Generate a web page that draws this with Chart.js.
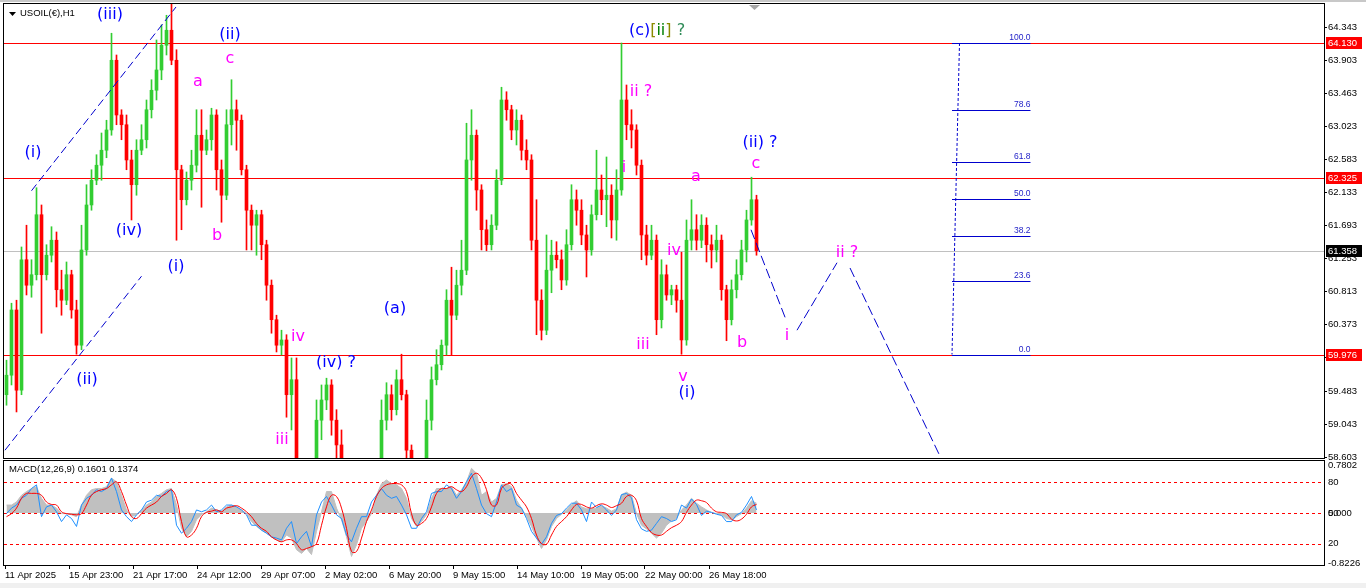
<!DOCTYPE html>
<html>
<head>
<meta charset="utf-8">
<title>USOIL(€),H1</title>
<script src="https://cdn.jsdelivr.net/npm/chart.js@4.4.1/dist/chart.umd.min.js"></script>
<style>
html, body { margin: 0; padding: 0; background: #f0f0f0; overflow: hidden; }
#wrap { position: relative; width: 1366px; height: 583px; background: #fff; overflow: hidden; }
#mainChart { position: absolute; left: 0; top: -10px; }
#macdChart { position: absolute; left: 0; top: 450px; }
#topStrip { position: absolute; left: 0; top: 0; width: 1366px; height: 2px; background: #c8c8c8; }
</style>
</head>
<body>
<div id="wrap">
  <canvas id="mainChart" width="1366" height="480"></canvas>
  <canvas id="macdChart" width="1366" height="133"></canvas>
  <div id="topStrip"></div>
</div>
<script>
var upColor = "#32cd32";
var downColor = "#ff0000";
var waveBlue = "#0000ff";
var wavePink = "#ff00ff";
var lineBlue = "#0000cd";
var fibBlue = "#2323c8";
var axisFont = {family: "Liberation Sans", size: 9.5};

//////////////////////////////////////// DATA ////////////////////////////////////////
// USOIL H1, one candle per 5 px column of the screen
var openPrices = [
  59.44, 59.70, 60.57, 59.50, 61.24, 60.90, 61.04, 61.84, 61.04, 61.30,
  61.50, 60.84, 60.70, 61.04, 60.57, 60.10, 61.37, 61.97, 62.30, 62.50,
  62.70, 62.97, 63.90, 63.17, 63.04, 62.57, 62.24, 62.70, 62.84, 63.24,
  63.50, 63.77, 64.10, 64.30, 63.90, 62.44, 62.04, 62.30, 62.50, 62.90,
  62.70, 62.84, 63.17, 62.44, 62.10, 63.04, 63.24, 63.10, 62.44, 61.90,
  61.70, 61.84, 61.44, 60.90, 60.44, 60.10, 60.17, 59.44, 59.64, 58.44,
  58.30, 58.37, 58.44, 59.10, 59.37, 59.57, 59.10, 58.77, 58.44, 58.17,
  58.10, 58.24, 58.17, 58.30, 58.24, 58.44, 59.10, 59.44, 59.24, 59.64,
  59.44, 58.70, 58.30, 58.17, 58.37, 59.10, 59.64, 59.84, 60.10, 60.70,
  60.50, 60.90, 61.10, 62.57, 62.90, 62.17, 61.64, 61.44, 61.70, 62.30,
  63.37, 63.24, 62.97, 63.10, 62.70, 62.57, 61.50, 60.70, 60.30, 61.10,
  61.30, 61.24, 60.97, 61.44, 62.04, 61.90, 61.57, 61.37, 61.84, 62.17,
  62.04, 62.10, 61.77, 62.17, 63.37, 63.04, 62.97, 62.50, 61.57, 61.30,
  61.50, 60.44, 61.04, 60.77, 60.84, 60.70, 60.17, 61.50, 61.64, 61.50,
  61.70, 61.44, 61.37, 61.50, 60.84, 60.44, 60.84, 61.04, 61.37, 61.77,
  62.04
];
var highPrices = [
  59.90, 60.66, 60.70, 61.41, 61.70, 61.24, 62.20, 61.97, 61.44, 61.68,
  61.61, 61.10, 61.21, 61.10, 60.70, 61.70, 62.24, 62.44, 62.64, 62.93,
  63.10, 64.26, 63.97, 63.24, 63.17, 62.70, 62.84, 63.04, 63.37, 63.64,
  64.17, 64.37, 64.50, 64.68, 64.04, 62.50, 62.41, 62.70, 63.24, 63.24,
  62.97, 63.26, 63.24, 62.57, 63.24, 63.64, 63.37, 63.17, 62.50, 61.97,
  61.90, 61.90, 61.50, 60.97, 60.50, 60.30, 60.24, 59.93, 59.93, 58.57,
  58.50, 58.54, 59.37, 59.57, 59.66, 59.64, 59.24, 58.97, 58.50, 58.30,
  58.33, 58.44, 58.44, 58.50, 58.57, 59.37, 59.60, 59.57, 59.77, 59.98,
  59.50, 58.77, 58.44, 58.50, 59.37, 59.81, 60.04, 60.17, 60.84, 61.14,
  61.10, 61.50, 63.06, 63.24, 62.97, 62.24, 61.77, 61.84, 62.44, 63.54,
  63.48, 63.30, 63.24, 63.17, 62.84, 62.64, 62.04, 60.84, 61.57, 61.50,
  61.48, 61.37, 61.64, 62.24, 62.17, 62.04, 61.70, 61.97, 62.70, 62.37,
  62.61, 62.24, 62.44, 64.13, 63.57, 63.24, 63.04, 62.57, 61.70, 61.70,
  61.57, 61.24, 61.17, 60.90, 60.90, 61.34, 61.77, 62.04, 61.84, 61.84,
  61.80, 61.57, 61.70, 61.57, 60.90, 60.97, 61.24, 61.50, 61.90, 62.34,
  62.10
];
var lowPrices = [
  59.30, 59.57, 59.21, 59.44, 60.77, 60.74, 60.97, 60.26, 60.97, 61.21,
  60.61, 60.50, 60.64, 60.46, 59.98, 60.04, 61.30, 61.90, 62.24, 62.30,
  62.60, 62.90, 63.04, 62.84, 62.44, 61.77, 62.10, 62.64, 62.73, 63.13,
  63.37, 63.64, 63.97, 63.84, 61.50, 61.64, 61.97, 62.17, 62.41, 61.94,
  62.64, 62.70, 62.17, 61.74, 62.04, 62.77, 62.70, 62.37, 61.37, 61.37,
  61.30, 61.24, 60.70, 60.26, 60.01, 59.97, 59.14, 58.97, 58.17, 58.04,
  57.97, 58.10, 58.30, 58.84, 59.24, 58.90, 58.57, 58.30, 57.97, 57.90,
  57.97, 58.04, 58.04, 58.10, 58.17, 58.37, 58.97, 59.10, 59.17, 59.37,
  58.57, 58.04, 57.90, 58.04, 58.30, 58.97, 59.57, 59.77, 59.97, 59.97,
  60.44, 60.77, 61.04, 62.30, 61.90, 61.37, 61.36, 61.37, 61.64, 62.24,
  63.10, 62.84, 62.77, 62.57, 62.44, 61.37, 60.24, 60.17, 60.24, 60.80,
  61.13, 60.84, 60.90, 61.37, 61.70, 61.44, 61.01, 61.30, 61.77, 61.84,
  61.68, 61.53, 61.50, 62.10, 62.84, 62.73, 62.37, 61.24, 61.17, 61.24,
  60.24, 60.33, 60.70, 60.64, 60.54, 59.98, 60.10, 61.37, 61.37, 61.40,
  61.21, 61.13, 61.21, 60.70, 60.16, 60.37, 60.73, 60.97, 61.21, 61.70,
  61.30
];
var closePrices = [
  59.70, 60.57, 59.50, 61.24, 60.90, 61.04, 61.84, 61.04, 61.30, 61.50,
  60.84, 60.70, 61.04, 60.57, 60.10, 61.37, 61.97, 62.30, 62.50, 62.70,
  62.97, 63.90, 63.17, 63.04, 62.57, 62.24, 62.70, 62.84, 63.24, 63.50,
  63.77, 64.10, 64.30, 63.90, 62.44, 62.04, 62.30, 62.50, 62.90, 62.70,
  62.84, 63.17, 62.44, 62.10, 63.04, 63.24, 63.10, 62.44, 61.90, 61.70,
  61.84, 61.44, 60.90, 60.44, 60.10, 60.17, 59.44, 59.64, 58.44, 58.30,
  58.37, 58.44, 59.10, 59.37, 59.57, 59.10, 58.77, 58.44, 58.17, 58.10,
  58.24, 58.17, 58.30, 58.24, 58.44, 59.10, 59.44, 59.24, 59.64, 59.44,
  58.70, 58.30, 58.17, 58.37, 59.10, 59.64, 59.84, 60.10, 60.70, 60.50,
  60.90, 61.10, 62.57, 62.90, 62.17, 61.64, 61.44, 61.70, 62.30, 63.37,
  63.24, 62.97, 63.10, 62.70, 62.57, 61.50, 60.70, 60.30, 61.10, 61.30,
  61.24, 60.97, 61.44, 62.04, 61.90, 61.57, 61.37, 61.84, 62.17, 62.04,
  62.10, 61.77, 62.17, 63.37, 63.04, 62.97, 62.50, 61.57, 61.30, 61.50,
  60.44, 61.04, 60.77, 60.84, 60.70, 60.17, 61.50, 61.64, 61.50, 61.70,
  61.44, 61.37, 61.50, 60.84, 60.44, 60.84, 61.04, 61.37, 61.77, 62.04,
  61.36
];

// MACD(12,26,9) sub window, same columns
var macdMain = [
  -0.01, 0.08, 0.13, 0.24, 0.29, 0.40, 0.46, -0.06, 0.10, 0.13,
  0.02, -0.14, -0.03, -0.09, -0.22, 0.13, 0.24, 0.29, 0.38, 0.35,
  0.40, 0.57, 0.35, 0.05, -0.06, -0.14, -0.03, 0.05, 0.18, 0.21,
  0.29, 0.27, 0.35, 0.38, -0.20, -0.33, -0.25, -0.14, 0.05, 0.02,
  0.05, 0.13, 0.02, 0.05, 0.13, 0.13, 0.10, 0.05, -0.03, -0.20,
  -0.20, -0.28, -0.33, -0.39, -0.41, -0.44, -0.25, -0.14, -0.50, -0.39,
  -0.30, -0.55, -0.03, 0.18, 0.27, 0.13, -0.03, -0.09, -0.36, -0.47,
  -0.25, -0.06, -0.06, 0.18, 0.29, 0.40, 0.29, 0.24, 0.27, 0.13,
  -0.03, -0.25, -0.25, -0.09, 0.02, 0.32, 0.35, 0.35, 0.46, 0.40,
  0.24, 0.35, 0.51, 0.65, 0.40, 0.13, -0.01, -0.06, 0.18, 0.46,
  0.35, 0.40, 0.13, 0.08, -0.09, -0.30, -0.41, -0.51, -0.39, -0.17,
  -0.04, -0.01, 0.08, 0.16, 0.16, 0.05, -0.14, 0.18, 0.09, 0.13,
  0.05, -0.04, 0.05, 0.30, 0.32, 0.25, -0.11, -0.26, -0.30, -0.28,
  -0.17, -0.06, -0.09, -0.14, -0.11, 0.13, 0.08, 0.23, 0.14, -0.04,
  0.03, 0.01, -0.02, -0.04, -0.14, -0.14, -0.03, 0.01, 0.13, 0.27,
  0.05
];
var macdSignal = [
  -0.06, -0.01, 0.08, 0.24, 0.32, 0.32, 0.32, 0.29, 0.18, 0.14,
  0.13, 0.02, -0.01, -0.02, -0.03, -0.01, 0.13, 0.29, 0.35, 0.38,
  0.40, 0.46, 0.51, 0.35, 0.13, -0.06, -0.09, -0.01, 0.08, 0.13,
  0.18, 0.27, 0.32, 0.38, 0.24, -0.14, -0.39, -0.36, -0.25, -0.06,
  0.01, 0.03, 0.05, 0.02, 0.08, 0.10, 0.12, 0.08, 0.02, -0.06,
  -0.17, -0.25, -0.30, -0.39, -0.44, -0.47, -0.44, -0.44, -0.50, -0.60,
  -0.58, -0.55, -0.50, -0.20, 0.10, 0.29, 0.27, 0.08, -0.25, -0.63,
  -0.63, -0.41, -0.14, 0.05, 0.27, 0.40, 0.46, 0.48, 0.48, 0.46,
  0.35, -0.01, -0.20, -0.17, -0.09, 0.10, 0.32, 0.40, 0.40, 0.43,
  0.38, 0.35, 0.43, 0.59, 0.65, 0.57, 0.38, 0.13, 0.13, 0.40,
  0.47, 0.47, 0.32, 0.21, 0.10, -0.09, -0.36, -0.50, -0.51, -0.36,
  -0.22, -0.14, -0.06, 0.05, 0.14, 0.14, 0.10, 0.08, 0.12, 0.15,
  0.13, 0.09, 0.12, 0.16, 0.27, 0.29, 0.20, -0.09, -0.22, -0.32,
  -0.36, -0.36, -0.30, -0.24, -0.20, -0.14, 0.01, 0.13, 0.21, 0.20,
  0.17, 0.08, 0.02, 0.01, -0.01, -0.10, -0.13, -0.10, -0.02, 0.10,
  0.14
];
var macdHist = [
  0.13, 0.13, 0.18, 0.29, 0.35, 0.40, 0.43, 0.24, 0.13, 0.13,
  0.08, -0.01, -0.01, -0.03, -0.06, 0.13, 0.29, 0.38, 0.40, 0.40,
  0.43, 0.57, 0.51, 0.29, 0.05, -0.06, -0.03, 0.05, 0.13, 0.18,
  0.27, 0.32, 0.38, 0.40, 0.13, -0.25, -0.39, -0.30, -0.11, -0.03,
  0.02, 0.08, 0.05, 0.03, 0.10, 0.13, 0.10, 0.05, -0.01, -0.14,
  -0.22, -0.28, -0.33, -0.39, -0.44, -0.47, -0.36, -0.41, -0.60, -0.66,
  -0.58, -0.68, -0.30, 0.02, 0.35, 0.35, 0.08, -0.11, -0.39, -0.71,
  -0.52, -0.25, -0.14, -0.01, 0.29, 0.48, 0.54, 0.48, 0.46, 0.40,
  0.24, -0.09, -0.22, -0.14, -0.03, 0.24, 0.40, 0.40, 0.40, 0.43,
  0.29, 0.38, 0.51, 0.73, 0.65, 0.29, 0.35, 0.18, 0.24, 0.46,
  0.48, 0.43, 0.21, 0.08, -0.06, -0.22, -0.41, -0.58, -0.44, -0.22,
  -0.09, -0.02, 0.05, 0.14, 0.20, 0.10, 0.07, 0.07, 0.08, 0.12,
  0.08, 0.03, 0.07, 0.30, 0.34, 0.29, -0.01, -0.20, -0.26, -0.33,
  -0.41, -0.33, -0.20, -0.13, -0.09, 0.05, 0.13, 0.24, 0.16, 0.10,
  0.05, 0.01, -0.01, -0.03, -0.09, -0.11, -0.06, -0.01, 0.08, 0.20,
  0.16
];
var macdLastMain = 0.1601;
var macdLastSignal = 0.1374;

// axes
var priceTicks = [64.343, 63.903, 63.463, 63.023, 62.583, 62.133, 61.693, 61.253, 60.813, 60.373, 59.933, 59.483, 59.043, 58.603];
var dateLabels = ["11 Apr 2025", "15 Apr 23:00", "21 Apr 17:00", "24 Apr 12:00", "29 Apr 07:00", "2 May 02:00", "6 May 20:00", "9 May 15:00", "14 May 10:00", "19 May 05:00", "22 May 00:00", "26 May 18:00"];
var macdTicks = [0.7802, 0.5, 0, -0.5, -0.8226];
var macdTickLabels = ["0.7802", "80", "0.000", "20", "-0.8226"];
var macdLevels = [0.5, 0, -0.5];

// chart objects
var redLevels = [64.130, 62.325, 59.976];
var bidLevel = 61.358;
var fibHigh = 64.130;
var fibLow = 59.976;
var fibLevels = [100.0, 78.6, 61.8, 50.0, 38.2, 23.6, 0.0];
var channelUpper = [{x: 5.0, y: 62.16}, {x: 33.9, y: 64.61}];
var channelLower = [{x: -0.3, y: 58.70}, {x: 27.0, y: 61.02}];
var projectionLegs = [
  [{x: 148.9, y: 61.64}, {x: 155.9, y: 60.44}],
  [{x: 158.1, y: 60.30}, {x: 166.1, y: 61.20}],
  [{x: 168.7, y: 61.13}, {x: 186.7, y: 58.62}]
];
var fibTrend = [{x: 190.6, y: 64.13}, {x: 189.1, y: 59.976}];

var blueWaveLabels = [
  ["(iii)", 20.7, 64.50], ["(ii)", 44.7, 64.24], ["(i)", 5.3, 62.66], ["(iv)", 24.5, 61.62],
  ["(i)", 33.9, 61.14], ["(ii)", 16.1, 59.64], ["(iv) ?", 65.9, 59.86], ["(a)", 77.7, 60.58],
  ["(ii) ?", 150.7, 62.80], ["(i)", 136.1, 59.46]
];
var pinkWaveLabels = [
  ["c", 44.7, 63.92], ["a", 38.3, 63.61], ["b", 42.1, 61.56], ["iv", 58.3, 60.21],
  ["iii", 55.1, 58.84], ["ii ?", 126.9, 63.48], ["i", 123.5, 62.46], ["a", 137.9, 62.34],
  ["c", 149.9, 62.52], ["iv", 133.5, 61.36], ["iii", 127.3, 60.10], ["b", 147.1, 60.13],
  ["v", 135.3, 59.68], ["i", 156.1, 60.22], ["ii ?", 168.1, 61.33]
];
var topWaveLabel = {x: 130.1, y: 64.29, parts: [["(c)", waveBlue], ["[", "#8b8b00"], ["ii", "#008000"], ["]", "#8b8b00"], [" ?", "#2e8b57"]]};

//////////////////////////////////////// SCALE SETUP ////////////////////////////////////////
var xMin = -0.5;
var xMax = xMin + 1320 / 5;
var priceMin = 58.596;
var priceMax = 64.650;
var dateTickStart = -0.3;
var dateTickStep = 12.8;
var fibStartBar = 189.1;
var fibEndBar = 204.8;

var barIndex = closePrices.map(function(c, i){ return i; });

function candleColor(i){
    return closePrices[i] >= openPrices[i] ? upColor : downColor;
}

function hLine(ctx, x0, x1, y, color){
    var yy = Math.round(y) + 0.5;
    ctx.strokeStyle = color;
    ctx.lineWidth = 1;
    ctx.beginPath();
    ctx.moveTo(x0, yy);
    ctx.lineTo(x1, yy);
    ctx.stroke();
}

function dashedLine(points, dash){
    return {
        type: "line",
        data: points,
        borderColor: lineBlue,
        borderWidth: 1,
        borderDash: dash,
        pointRadius: 0,
        tension: 0,
        clip: 0
    };
}

function frame(ctx, area){
    ctx.strokeStyle = "#000";
    ctx.lineWidth = 1;
    ctx.strokeRect(area.left - 0.5, area.top - 0.5, area.right - area.left + 1, area.bottom - area.top + 1);
}

//////////////////////////////////////// MAIN WINDOW ////////////////////////////////////////
var mainOverlay = {
    id: "mainOverlay",
    beforeDatasetsDraw: function(chart){
        var ctx = chart.ctx, area = chart.chartArea, xs = chart.scales.x, ys = chart.scales.y;
        ctx.save();
        hLine(ctx, area.left, area.right, ys.getPixelForValue(bidLevel), "#c0c0c0");
        redLevels.forEach(function(v){
            hLine(ctx, area.left, area.right, ys.getPixelForValue(v), "#ff0000");
        });
        var x0 = xs.getPixelForValue(fibStartBar), x1 = xs.getPixelForValue(fibEndBar);
        ctx.font = "8.5px 'Liberation Sans'";
        ctx.textAlign = "right";
        ctx.textBaseline = "bottom";
        fibLevels.forEach(function(lv){
            var y = ys.getPixelForValue(fibLow + (fibHigh - fibLow) * lv / 100);
            hLine(ctx, x0, x1, y, lineBlue);
            ctx.fillStyle = fibBlue;
            ctx.fillText(lv.toFixed(1), x1, Math.round(y) - 1);
        });
        ctx.restore();
    },
    afterDraw: function(chart){
        var ctx = chart.ctx, area = chart.chartArea, xs = chart.scales.x, ys = chart.scales.y;
        ctx.save();
        frame(ctx, area);

        // wave counts
        ctx.font = "16px 'DejaVu Sans'";
        ctx.textAlign = "center";
        ctx.textBaseline = "middle";
        ctx.fillStyle = waveBlue;
        blueWaveLabels.forEach(function(l){
            ctx.fillText(l[0], xs.getPixelForValue(l[1]), ys.getPixelForValue(l[2]));
        });
        ctx.fillStyle = wavePink;
        pinkWaveLabels.forEach(function(l){
            ctx.fillText(l[0], xs.getPixelForValue(l[1]), ys.getPixelForValue(l[2]));
        });
        var total = 0;
        topWaveLabel.parts.forEach(function(p){ total += ctx.measureText(p[0]).width; });
        var tx = xs.getPixelForValue(topWaveLabel.x) - total / 2;
        ctx.textAlign = "left";
        topWaveLabel.parts.forEach(function(p){
            ctx.fillStyle = p[1];
            ctx.fillText(p[0], tx, ys.getPixelForValue(topWaveLabel.y));
            tx += ctx.measureText(p[0]).width;
        });

        // symbol title
        ctx.fillStyle = "#000";
        ctx.beginPath();
        ctx.moveTo(9, area.top + 8);
        ctx.lineTo(16, area.top + 8);
        ctx.lineTo(12.5, area.top + 12);
        ctx.closePath();
        ctx.fill();
        ctx.font = "9.5px 'Liberation Sans'";
        ctx.textBaseline = "middle";
        ctx.fillText("USOIL(€),H1", 20, area.top + 9);

        // chart shift marker
        ctx.fillStyle = "#a8a8a8";
        ctx.beginPath();
        ctx.moveTo(749, area.top + 1);
        ctx.lineTo(760, area.top + 1);
        ctx.lineTo(754.5, area.top + 6);
        ctx.closePath();
        ctx.fill();

        // price boxes on the axis
        function box(v, bg){
            var y = Math.round(ys.getPixelForValue(v));
            ctx.fillStyle = bg;
            ctx.fillRect(area.right + 2, y - 6, 36, 12);
            ctx.fillStyle = "#fff";
            ctx.textAlign = "left";
            ctx.fillText(v.toFixed(3), area.right + 4, y + 0.5);
        }
        redLevels.forEach(function(v){ box(v, "#ff0000"); });
        box(bidLevel, "#000");
        ctx.restore();
    }
};

var bodyDataset = {
    data: barIndex.map(function(i){ return {x: i, y: [openPrices[i], closePrices[i]]}; }),
    backgroundColor: barIndex.map(candleColor),
    barThickness: 3,
    borderWidth: 0,
    grouped: false,
    clip: 0
};
var wickDataset = {
    data: barIndex.map(function(i){ return {x: i, y: [lowPrices[i], highPrices[i]]}; }),
    backgroundColor: barIndex.map(candleColor),
    barThickness: 1,
    borderWidth: 0,
    grouped: false,
    clip: 0
};

var mainDatasets = [
    dashedLine(channelUpper, [8, 4]),
    dashedLine(channelLower, [8, 4]),
    dashedLine(fibTrend, [3, 2])
];
projectionLegs.forEach(function(leg){ mainDatasets.push(dashedLine(leg, [10, 4])); });
mainDatasets.push(bodyDataset);
mainDatasets.push(wickDataset);

new Chart(document.getElementById("mainChart"), {
    type: "bar",
    data: {datasets: mainDatasets},
    options: {
        responsive: false,
        animation: false,
        devicePixelRatio: 1,
        events: [],
        layout: {padding: {left: 4, top: 14, bottom: 12, right: 0}},
        plugins: {legend: {display: false}, tooltip: {enabled: false}},
        scales: {
            x: {type: "linear", min: xMin, max: xMax, offset: false, display: false, grid: {offset: false}},
            y: {
                position: "right",
                min: priceMin,
                max: priceMax,
                afterFit: function(scale){ scale.width = 42; },
                afterBuildTicks: function(scale){
                    scale.ticks = priceTicks.map(function(v){ return {value: v}; });
                },
                ticks: {
                    autoSkip: false,
                    padding: 1,
                    color: "#000",
                    font: axisFont,
                    callback: function(v){ return v.toFixed(3); }
                },
                grid: {drawOnChartArea: false, drawTicks: true, tickLength: 3, color: "#000"},
                border: {display: true, color: "#000"}
            }
        }
    },
    plugins: [mainOverlay]
});

//////////////////////////////////////// MACD WINDOW ////////////////////////////////////////
var macdOverlay = {
    id: "macdOverlay",
    beforeDatasetsDraw: function(chart){
        var ctx = chart.ctx, area = chart.chartArea, ys = chart.scales.y;
        ctx.save();
        ctx.setLineDash([3, 3]);
        macdLevels.forEach(function(v){
            hLine(ctx, area.left, area.right, ys.getPixelForValue(v), "#ff0000");
        });
        ctx.restore();
    },
    afterDraw: function(chart){
        var ctx = chart.ctx, area = chart.chartArea, ys = chart.scales.y;
        ctx.save();
        frame(ctx, area);
        ctx.fillStyle = "#000";
        ctx.font = "9.5px 'Liberation Sans'";
        ctx.textBaseline = "middle";
        ctx.textAlign = "left";
        ctx.fillText("MACD(12,26,9) " + macdLastMain.toFixed(4) + " " + macdLastSignal.toFixed(4), 9, area.top + 8);
        // MT4 draws the 50 level label on top of the zero value
        ctx.fillText("50", area.right + 4, Math.round(ys.getPixelForValue(0)));
        ctx.restore();
    }
};

new Chart(document.getElementById("macdChart"), {
    type: "line",
    data: {
        datasets: [
            {
                data: barIndex.map(function(i){ return {x: i, y: macdSignal[i]}; }),
                borderColor: "#ff0000", borderWidth: 1, pointRadius: 0, tension: 0.4, clip: 0
            },
            {
                data: barIndex.map(function(i){ return {x: i, y: macdMain[i]}; }),
                borderColor: "#1e90ff", borderWidth: 1, pointRadius: 0, tension: 0, clip: 0
            },
            {
                data: barIndex.map(function(i){ return {x: i, y: macdHist[i]}; }),
                borderColor: "#c0c0c0", backgroundColor: "#c0c0c0", borderWidth: 1,
                pointRadius: 0, tension: 0, fill: "origin", clip: 0
            }
        ]
    },
    options: {
        responsive: false,
        animation: false,
        devicePixelRatio: 1,
        events: [],
        layout: {padding: {left: 4, top: 11, bottom: 0, right: 0}},
        plugins: {legend: {display: false}, tooltip: {enabled: false}},
        scales: {
            x: {
                type: "linear", min: xMin, max: xMax, offset: false,
                afterFit: function(scale){ scale.height = 18; },
                afterBuildTicks: function(scale){
                    scale.ticks = dateLabels.map(function(d, k){ return {value: dateTickStart + k * dateTickStep}; });
                },
                ticks: {
                    autoSkip: false, maxRotation: 0, minRotation: 0, align: "start",
                    padding: 1, color: "#000", font: axisFont,
                    callback: function(v, k){ return dateLabels[k]; }
                },
                grid: {drawOnChartArea: false, drawTicks: true, tickLength: 4, color: "#000"},
                border: {display: true, color: "#000"}
            },
            y: {
                position: "right", min: -0.85, max: 0.85,
                afterFit: function(scale){ scale.width = 42; },
                afterBuildTicks: function(scale){
                    scale.ticks = macdTicks.map(function(v){ return {value: v}; });
                },
                ticks: {
                    autoSkip: false, padding: 4, color: "#000", font: axisFont,
                    callback: function(v, k){ return macdTickLabels[k]; }
                },
                grid: {drawOnChartArea: false, drawTicks: false},
                border: {display: true, color: "#000"}
            }
        }
    },
    plugins: [macdOverlay]
});
</script>
</body>
</html>
